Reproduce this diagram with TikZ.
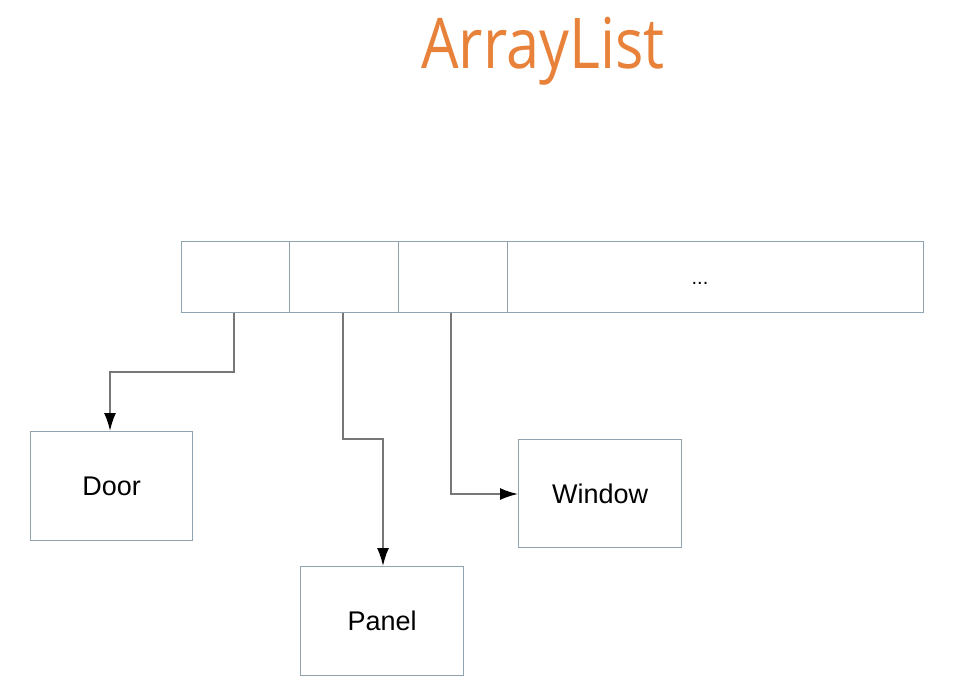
\documentclass[tikz,border=0pt]{standalone}
\usepackage{fontspec}
\setmainfont{Liberation Sans}
\newfontfamily\titlefont{Open Sans}
\usetikzlibrary{arrows.meta}
\definecolor{boxline}{HTML}{8FA3B1}
\definecolor{conn}{HTML}{777777}
\definecolor{titleorange}{HTML}{E8823A}
\tikzset{
  objbox/.style={draw=boxline, line width=1.3pt, minimum width=163pt, minimum height=109pt, inner sep=0pt, font=\fontsize{27}{30}\selectfont, anchor=north west},
  cellbox/.style={draw=boxline, line width=1.3pt, minimum height=71pt, inner sep=0pt, anchor=north west},
  link/.style={draw=conn, line width=1.8pt, -{Latex[length=18pt,width=12pt,color=black]}}
}
\begin{document}
\begin{tikzpicture}[x=1pt,y=-1pt]
\useasboundingbox (0,0) rectangle (974,697);
\node[text=titleorange, font=\titlefont\fontsize{70}{80}\selectfont, anchor=base] (title) at (543,68) {\scalebox{0.85}[1]{ArrayList}};
\node[cellbox, minimum width=108pt] (c1) at (181,241) {};
\node[cellbox, minimum width=109pt] (c2) at (289,241) {};
\node[cellbox, minimum width=109pt] (c3) at (398,241) {};
\node[cellbox, minimum width=416pt] (c4) at (507,241) {};
\node[font=\fontsize{20}{22}\selectfont, anchor=base] (dots) at (700,284) {...};
\node[objbox, minimum width=162pt] (door) at (30,431) {Door};
\node[objbox] (panel) at (300,566) {Panel};
\node[objbox, minimum height=108pt] (window) at (518,439) {Window};
\coordinate (d1) at (234,372);
\coordinate (d2) at (110,372);
\coordinate (p1) at (343,439);
\coordinate (p2) at (383,439);
\coordinate (w1) at (451,494);
\draw[link] (c1.south -| d1) -- (d1) -- (d2) -- (d2 |- door.north);
\draw[link] (c2.south -| p1) -- (p1) -- (p2) -- (p2 |- panel.north);
\draw[link] (c3.south -| w1) -- (w1) -- (w1 -| window.west);
\end{tikzpicture}
\end{document}
